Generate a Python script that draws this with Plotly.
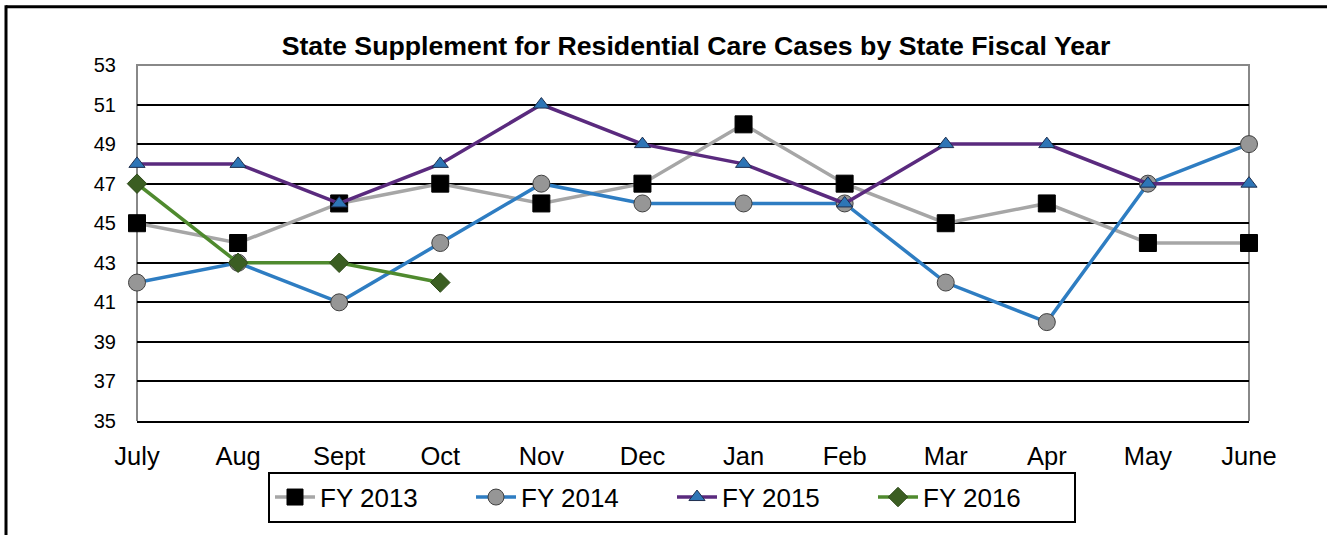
import plotly.graph_objects as go

months = ["July", "Aug", "Sept", "Oct", "Nov", "Dec", "Jan", "Feb", "Mar", "Apr", "May", "June"]
fy2013 = [45, 44, 46, 47, 46, 47, 50, 47, 45, 46, 44, 44]
fy2014 = [42, 43, 41, 44, 47, 46, 46, 46, 42, 40, 47, 49]
fy2015 = [48, 48, 46, 48, 51, 49, 48, 46, 49, 49, 47, 47]
fy2016 = [47, 43, 43, 42]
y_ticks = [35, 37, 39, 41, 43, 45, 47, 49, 51, 53]

W, H = 1327, 535
L, R, T, B = 137, 1249, 65, 425
pw, ph = R - L, B - T

fig = go.Figure()
fig.add_trace(go.Scatter(
    x=months, y=fy2013, name="FY 2013", mode="lines+markers",
    line=dict(color="#A6A6A6", width=3.5),
    marker=dict(symbol="square", size=17, color="#000000", line=dict(color="#000000", width=1)),
    cliponaxis=False))
fig.add_trace(go.Scatter(
    x=months, y=fy2014, name="FY 2014", mode="lines+markers",
    line=dict(color="#2E7DC2", width=3.5),
    marker=dict(symbol="circle", size=17, color="#969696", line=dict(color="#404040", width=1)),
    cliponaxis=False))
fig.add_trace(go.Scatter(
    x=months, y=fy2015, name="FY 2015", mode="lines+markers",
    line=dict(color="#5A2A7E", width=3.5),
    marker=dict(symbol="triangle-up", size=14, color="#2E75B6", line=dict(color="#1F2F4F", width=1)),
    cliponaxis=False))
fig.add_trace(go.Scatter(
    x=months[:len(fy2016)], y=fy2016, name="FY 2016", mode="lines+markers",
    line=dict(color="#4F8A2E", width=3.5),
    marker=dict(symbol="diamond", size=15, color="#3B5E22", line=dict(color="#2E4A1A", width=1)),
    cliponaxis=False))

# gray plot border (left, top, right)
fig.add_shape(type="path", xref="paper", yref="paper",
              path="M 0 0 L 0 1 L 1 1 L 1 0", line=dict(color="#888888", width=2),
              layer="between")
# outer frame (left and top)
x_out = (6 - L) / pw
y_out = 1 + (T - 6) / ph
fig.add_shape(type="line", xref="paper", yref="paper", x0=x_out, x1=x_out,
              y0=(B - H - 10) / ph, y1=y_out + 1.5 / ph,
              line=dict(color="#000000", width=3))
fig.add_shape(type="line", xref="paper", yref="paper", x0=x_out, x1=(W + 10 - L) / pw,
              y0=y_out, y1=y_out,
              line=dict(color="#000000", width=3))

fig.update_layout(
    width=W, height=H,
    margin=dict(l=L, r=W - R, t=T, b=H - B),
    paper_bgcolor="white", plot_bgcolor="white",
    font=dict(family="Arial, Liberation Sans, sans-serif", color="#000000", size=20),
    title=dict(text="<b>State Supplement for Residential Care Cases by State Fiscal Year</b>",
               x=(696 - L) / pw, xref="paper", xanchor="center",
               y=1 - 46 / H, yanchor="middle",
               font=dict(size=26.7, family="Arial, Liberation Sans, sans-serif", color="#000000")),
    xaxis=dict(type="category", range=[0, 11], showgrid=False, zeroline=False,
               showline=True, linecolor="#000000", linewidth=2,
               ticks="", ticklabelstandoff=11, tickfont=dict(size=25.5)),
    yaxis=dict(range=[35, 53], tickvals=y_ticks, showgrid=True, gridcolor="#000000", gridwidth=2,
               zeroline=False, showline=False, ticks="", ticklabelstandoff=20,
               tickfont=dict(size=20)),
    legend=dict(orientation="h", x=(672 - L) / pw, xanchor="center",
                y=(B - 502) / ph, yanchor="middle",
                bordercolor="#000000", borderwidth=2, bgcolor="white",
                entrywidth=146, font=dict(size=26),
                itemwidth=40),
    showlegend=True,
)

fig.write_html("out.html", post_script="document.body.style.margin='0';",
               config={"displayModeBar": False})
